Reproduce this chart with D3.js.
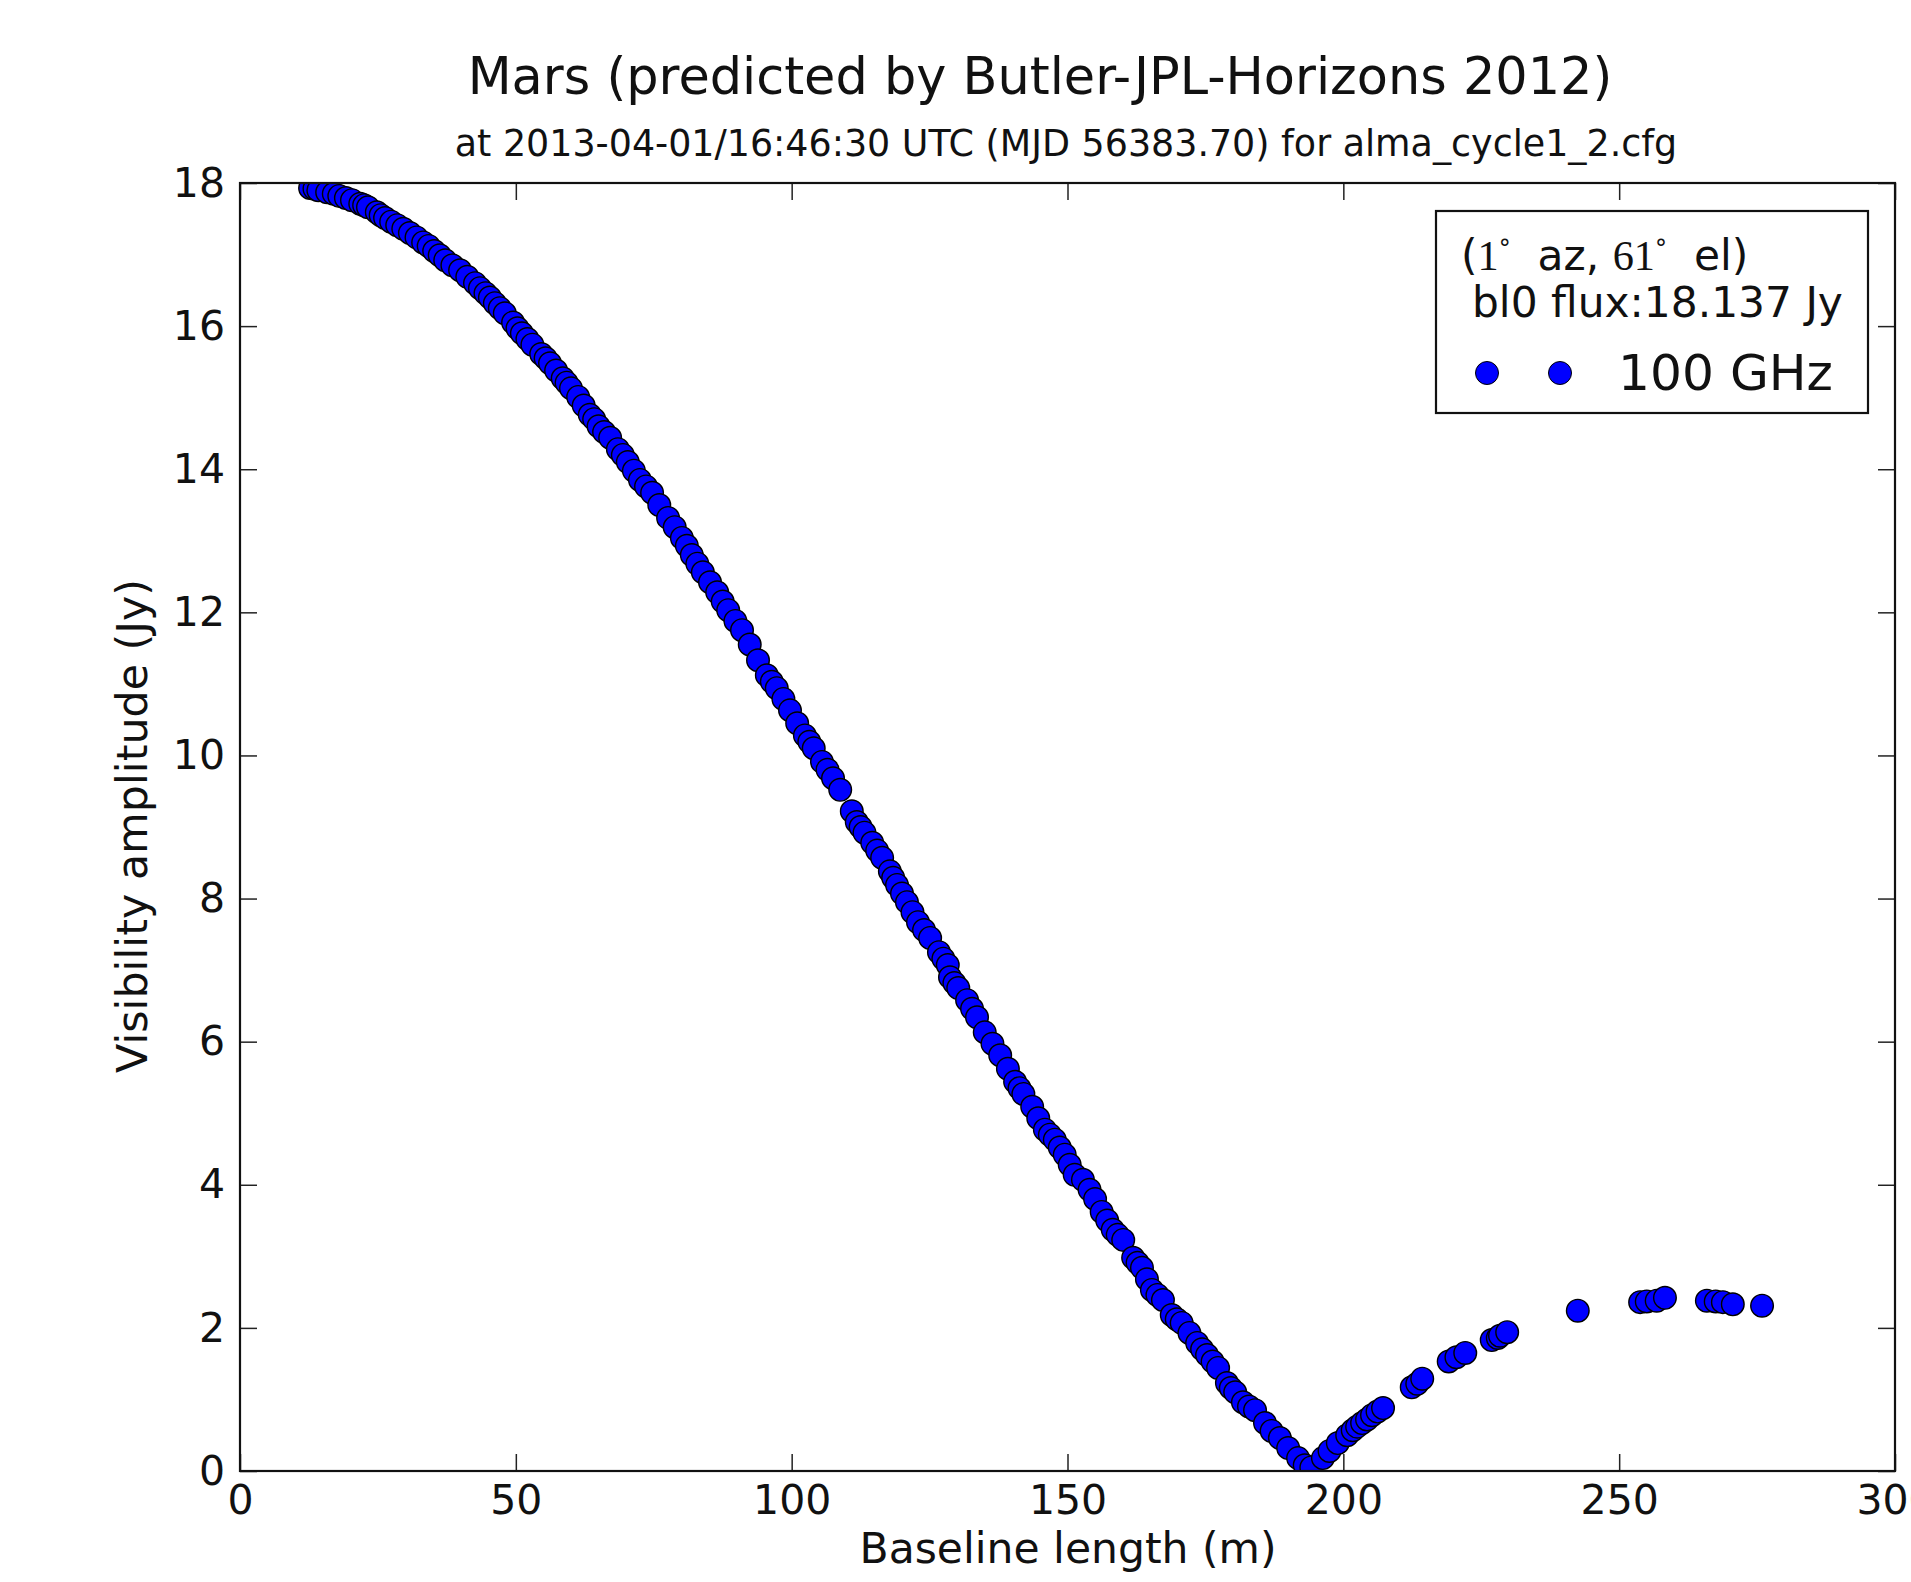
<!DOCTYPE html>
<html><head><meta charset="utf-8">
<script src="https://cdn.jsdelivr.net/npm/d3@7"></script>
<style>
body{margin:0;background:#fff}
svg{display:block}
text{font-family:"DejaVu Sans",sans-serif;fill:#111}
</style>
</head><body>
<svg id="chart" width="1911" height="1582"></svg>
<script>
// ---- data ----
const baselineM = [12.7,14.2,15.8,18.0,20.3,21.8,23.2,24.8,26.3,28.5,30.8,33.2,35.2,37.2,39.9,41.2,42.6,44.5,46.2,48.0,49.5,51.1,53.0,54.6,56.2,58.5,60.0,61.3,63.4,65.0,67.1,68.5,70.3,72.5,74.7,76.0,77.6,80.1,81.9,83.9,86.5,88.5,91.0,92.4,93.9,95.5,97.3,99.7,101.0,102.4,104.0,105.5,107.5,108.8,110.9,111.8,113.2,114.6,116.4,117.8,119.1,120.9,122.9,125.1,126.7,128.3,128.7,130.2,131.8,133.6,135.0,136.4,137.8,139.2,140.5,142.0,143.6,145.9,147.7,149.5,151.3,152.8,155.0,156.2,158.2,160.1,161.9,163.5,165.3,167.3,168.9,170.7,173.5,175.3,177.3,178.9,180.4,181.8,184.0,185.8,188.5,191.8,193.0,196.3,199.0,200.7,201.7,203.4,205.2,207.2,212.4,214.3,219.1,222.1,226.9,228.4,229.7,242.5,253.8,256.8,258.3,265.9,268.8,270.6,275.9];
const amplitudeJy = [17.93,17.90,17.87,17.82,17.76,17.71,17.66,17.59,17.51,17.41,17.30,17.17,17.05,16.92,16.78,16.69,16.60,16.46,16.32,16.18,16.05,15.90,15.74,15.61,15.48,15.27,15.13,15.01,14.76,14.60,14.44,14.28,14.10,13.85,13.67,13.50,13.32,13.04,12.80,12.56,12.28,12.03,11.75,11.55,11.33,11.12,10.94,10.63,10.45,10.28,10.10,9.91,9.68,9.52,9.22,9.07,8.92,8.78,8.57,8.38,8.19,7.95,7.67,7.45,7.25,7.07,6.90,6.75,6.58,6.34,6.13,5.97,5.81,5.62,5.44,5.27,5.09,4.77,4.63,4.42,4.14,4.07,3.80,3.62,3.37,3.23,2.98,2.84,2.53,2.39,2.18,2.07,1.79,1.62,1.44,1.23,1.10,0.96,0.85,0.67,0.46,0.18,0.08,0.18,0.39,0.50,0.57,0.67,0.78,0.88,1.17,1.29,1.53,1.65,1.83,1.89,1.94,2.24,2.36,2.38,2.42,2.38,2.36,2.33,2.31];
// further overlapping markers read inside the dense band
const baselineExtraM = [13.5,17.0,19.2,22.5,25.5,27.4,29.6,32.0,34.2,36.2,38.5,43.5,45.3,47.1,50.3,52.1,55.4,57.3,59.2,62.3,64.2,66.0,69.4,71.4,73.6,78.8,81.0,82.9,85.2,87.5,89.8,96.4,98.5,103.2,106.5,112.5,115.5,118.4,120.0,121.9,124.0,127.5,129.5,132.7,141.3,144.7,146.8,148.6,150.4,154.0,157.2,159.1,162.7,164.4,166.3,169.8,172.1,174.4,176.3,179.6,182.9,187.0,190.0,194.2,197.5,202.5,204.3,206.2,213.4,220.5,228.0,255.0,267.5];
const amplitudeExtraJy = [17.92,17.85,17.79,17.69,17.55,17.46,17.36,17.24,17.12,16.99,16.85,16.53,16.40,16.25,15.97,15.82,15.55,15.38,15.21,14.89,14.70,14.52,14.20,13.98,13.76,13.19,12.93,12.68,12.42,12.15,11.88,11.03,10.79,10.19,9.80,9.00,8.67,8.29,8.07,7.81,7.56,7.16,6.82,6.46,5.35,4.93,4.70,4.52,4.28,3.93,3.50,3.30,2.91,2.68,2.46,2.12,1.93,1.70,1.53,1.16,0.90,0.56,0.32,0.05,0.28,0.62,0.72,0.83,1.22,1.59,1.86,2.37,2.37];
const xTickValues = [0,50,100,150,200,250,300];
const yTickValues = [0,2,4,6,8,10,12,14,16,18];
const titleText = "Mars (predicted by Butler-JPL-Horizons 2012)";
const subtitleText = "at 2013-04-01/16:46:30 UTC (MJD 56383.70) for alma_cycle1_2.cfg";
const xLabelText = "Baseline length (m)";
const yLabelText = "Visibility amplitude (Jy)";
const legendAz = "1", legendEl = "61";
const legendFluxText = "bl0 flux:18.137 Jy";
const seriesName = "100 GHz";

// ---- layout ----
const m = {left:240, right:1895, top:183, bottom:1471};
const svg = d3.select("#chart");

const x = d3.scaleLinear().domain([0,300]).range([m.left, m.right]);
const y = d3.scaleLinear().domain([0,18]).range([m.bottom, m.top]);

function fit(sel, target){
  const fs = parseFloat(sel.attr("font-size"));
  const w = sel.node().getComputedTextLength();
  sel.attr("font-size", (fs*target/w).toFixed(2));
}

svg.append("clipPath").attr("id","clip").append("rect")
  .attr("x", m.left).attr("y", m.top).attr("width", m.right-m.left).attr("height", m.bottom-m.top);

const pts = baselineM.map((b,i)=>({b, a:amplitudeJy[i]}))
  .concat(baselineExtraM.map((b,i)=>({b, a:amplitudeExtraJy[i]})))
  .sort((p,q)=>p.b-q.b);
svg.append("g").attr("clip-path","url(#clip)")
  .selectAll("circle").data(pts).join("circle")
  .attr("cx", d=>x(d.b)).attr("cy", d=>y(d.a)).attr("r", 11.3)
  .attr("fill","#0000ff").attr("stroke","#000").attr("stroke-width",1.4);

// axes
const tickFs = 41;
const ax = svg.append("g").attr("transform",`translate(0,${m.bottom})`)
  .call(d3.axisBottom(x).tickValues(xTickValues).tickFormat(d3.format("d")).tickSizeInner(-17).tickSizeOuter(0).tickPadding(14));
const ay = svg.append("g").attr("transform",`translate(${m.left},0)`)
  .call(d3.axisLeft(y).tickValues(yTickValues).tickFormat(d3.format("d")).tickSizeInner(-17).tickSizeOuter(0).tickPadding(15));
const at = svg.append("g").attr("transform",`translate(0,${m.top})`)
  .call(d3.axisTop(x).tickValues(xTickValues).tickFormat("").tickSizeInner(-17).tickSizeOuter(0));
const ar = svg.append("g").attr("transform",`translate(${m.right},0)`)
  .call(d3.axisRight(y).tickValues(yTickValues).tickFormat("").tickSizeInner(-17).tickSizeOuter(0));
[ax,ay,at,ar].forEach(g=>{
  g.select(".domain").remove();
  g.selectAll(".tick line").attr("stroke","#222").attr("stroke-width",1.5);
  g.selectAll(".tick text").attr("font-size",tickFs).attr("font-family","DejaVu Sans").attr("fill","#111");
});
svg.append("rect").attr("x",m.left).attr("y",m.top).attr("width",m.right-m.left).attr("height",m.bottom-m.top)
  .attr("fill","none").attr("stroke","#111").attr("stroke-width",2.2);

// titles
const t1 = svg.append("text").attr("x",1040).attr("y",94).attr("text-anchor","middle").attr("font-size",50).text(titleText);
fit(t1, 1145);
const t2 = svg.append("text").attr("x",1066).attr("y",156).attr("text-anchor","middle").attr("font-size",33).text(subtitleText);
fit(t2, 1223);
const xl = svg.append("text").attr("x",1068).attr("y",1563).attr("text-anchor","middle").attr("font-size",40).text(xLabelText);
fit(xl, 417);
const yl = svg.append("text").attr("transform","translate(147,826) rotate(-90)").attr("text-anchor","middle").attr("font-size",40).text(yLabelText);
fit(yl, 494);

// legend
const lg = svg.append("g");
lg.append("rect").attr("x",1436).attr("y",211).attr("width",432).attr("height",202)
  .attr("fill","#fff").attr("stroke","#111").attr("stroke-width",2.2);
const l1 = lg.append("text").attr("x",1461).attr("y",270).attr("font-size",36);
l1.append("tspan").text("(");
l1.append("tspan").attr("font-family","Liberation Serif, DejaVu Serif, serif").text(legendAz);
l1.append("tspan").attr("font-size",24).attr("dy",-13).text("°");
l1.append("tspan").attr("dy",13).text("\u00a0 az, ");
l1.append("tspan").attr("font-family","Liberation Serif, DejaVu Serif, serif").text(legendEl);
l1.append("tspan").attr("font-size",24).attr("dy",-13).text("°");
l1.append("tspan").attr("dy",13).text("\u00a0 el)");
const l2 = lg.append("text").attr("x",1472).attr("y",317).attr("font-size",36).text(legendFluxText);
fit(l2, 371);
l1.attr("font-size", l2.attr("font-size"));
const l3 = lg.append("text").attr("x",1618).attr("y",390).attr("font-size",46).text(seriesName);
fit(l3, 215);
lg.selectAll("circle.lm").data([1487,1560]).join("circle").attr("class","lm")
  .attr("cx",d=>d).attr("cy",373).attr("r",11.5).attr("fill","#0000ff").attr("stroke","#000").attr("stroke-width",1);
</script>
</body></html>
